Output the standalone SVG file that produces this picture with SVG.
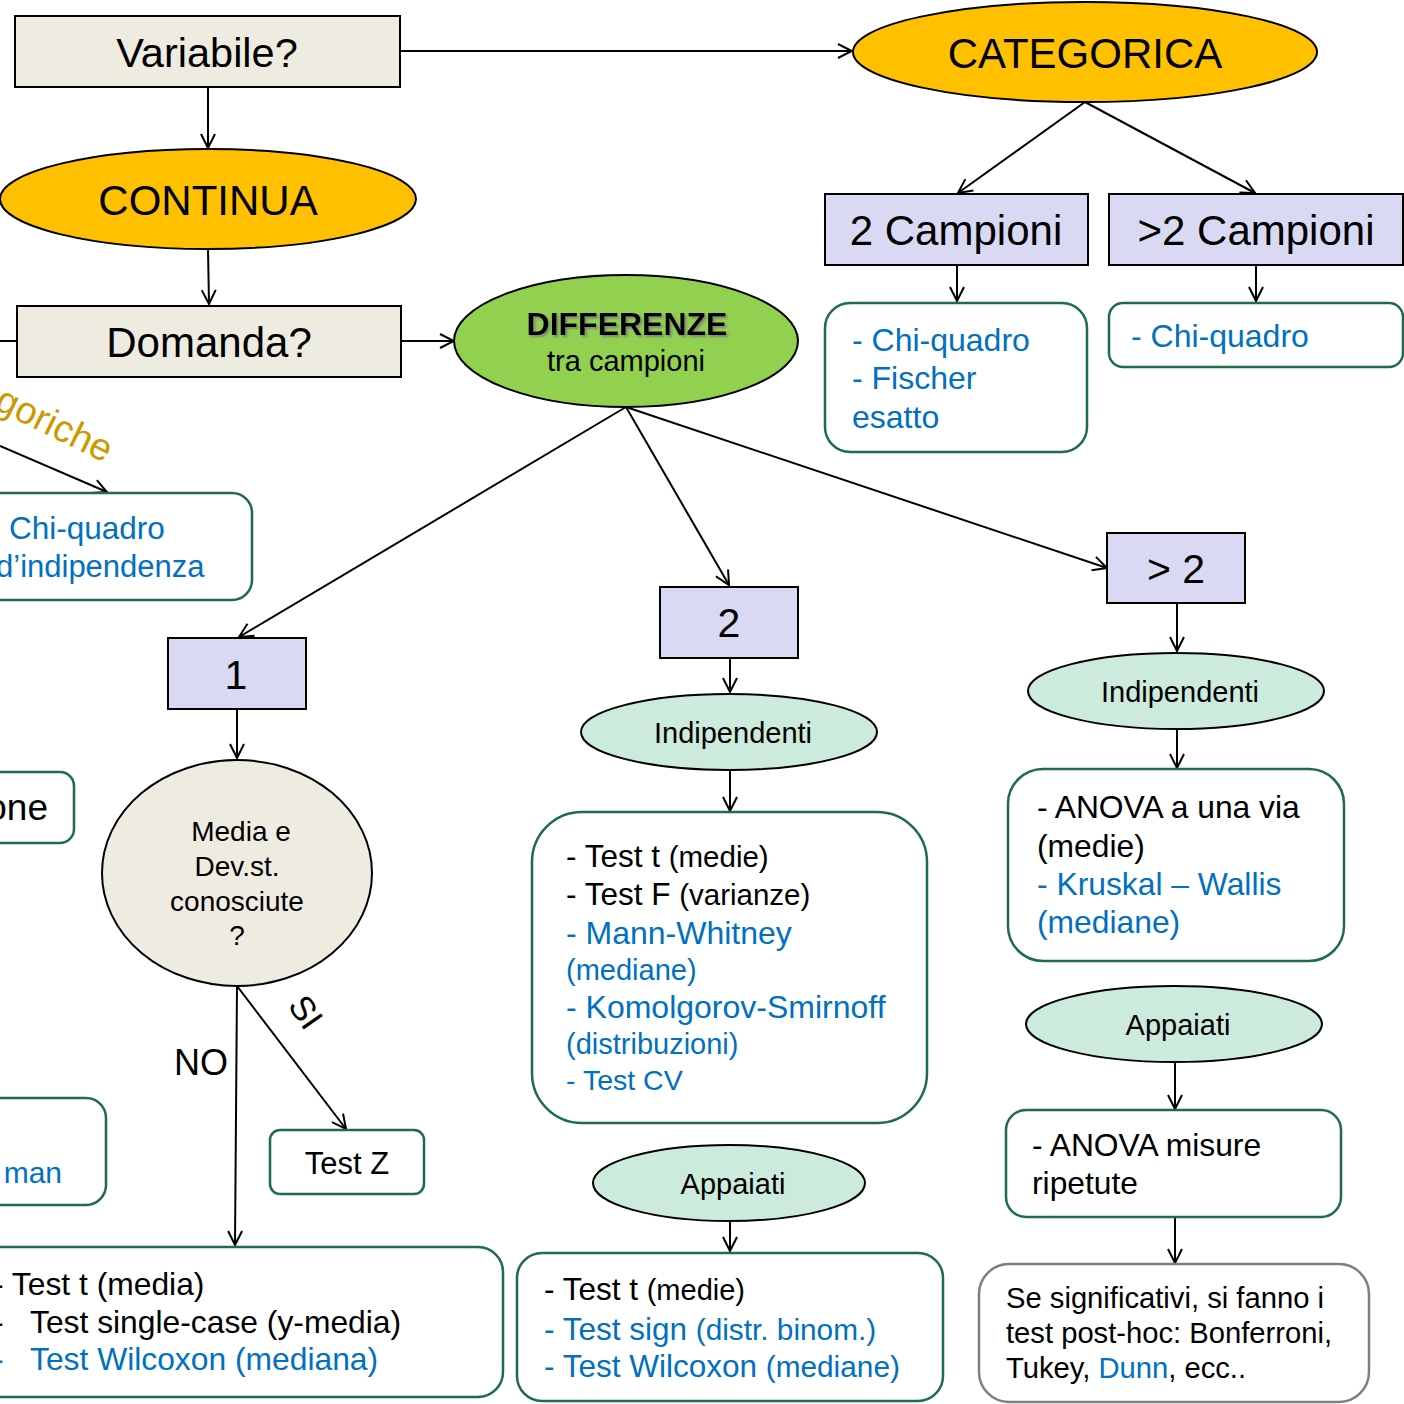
<svg xmlns="http://www.w3.org/2000/svg" width="1404" height="1404" viewBox="0 0 1404 1404">
<style>
text{font-family:"Liberation Sans",Arial,sans-serif;fill:#000}
.c{text-anchor:middle;dominant-baseline:central}
.blue{fill:#0070C0}
.q{fill:#EEECE1;stroke:#000;stroke-width:2}
.cat{fill:#FFC000;stroke:#000;stroke-width:2}
.lav{fill:#D9D9F3;stroke:#000;stroke-width:2}
.mint{fill:#CDEBDC;stroke:#000;stroke-width:2}
.box{fill:#fff;stroke:#1D6B50;stroke-width:2.5}
.gbox{fill:#fff;stroke:#7F7F7F;stroke-width:2.5}
.ln{fill:none;stroke:#000;stroke-width:2}
.ar{marker-end:url(#ah)}
</style>
<defs>
<marker id="ah" viewBox="0 0 16 16" refX="15" refY="8" markerWidth="16" markerHeight="16" markerUnits="userSpaceOnUse" orient="auto">
<path d="M1,1 L15,8 L1,15" fill="none" stroke="#000" stroke-width="2"/>
</marker>
<filter id="sh" x="-10%" y="-30%" width="120%" height="160%">
<feDropShadow dx="2" dy="2" stdDeviation="1.2" flood-color="#777" flood-opacity="0.8"/>
</filter>
</defs>
<rect width="1404" height="1404" fill="#fff"/>

<g id="connectors">
<line class="ln ar" x1="400" y1="51" x2="852" y2="51"/>
<line class="ln ar" x1="208" y1="87" x2="208" y2="148"/>
<line class="ln ar" x1="208" y1="249" x2="209" y2="304"/>
<line class="ln" x1="0" y1="341" x2="17" y2="341"/>
<line class="ln ar" x1="401" y1="341" x2="454" y2="341"/>
<line class="ln ar" x1="1085" y1="102" x2="958" y2="193"/>
<line class="ln ar" x1="1085" y1="102" x2="1255" y2="193"/>
<line class="ln ar" x1="957" y1="265" x2="957" y2="301"/>
<line class="ln ar" x1="1256" y1="265" x2="1256" y2="301"/>
<line class="ln ar" x1="0" y1="446" x2="107" y2="492"/>
<line class="ln ar" x1="626" y1="407" x2="239" y2="637"/>
<line class="ln ar" x1="626" y1="407" x2="729" y2="585"/>
<line class="ln ar" x1="626" y1="407" x2="1107" y2="568"/>
<line class="ln ar" x1="237" y1="709" x2="237" y2="758"/>
<line class="ln ar" x1="237" y1="986" x2="235" y2="1245"/>
<line class="ln ar" x1="237" y1="986" x2="346" y2="1129"/>
<line class="ln ar" x1="730" y1="658" x2="730" y2="692"/>
<line class="ln ar" x1="730" y1="770" x2="730" y2="811"/>
<line class="ln ar" x1="730" y1="1221" x2="730" y2="1251"/>
<line class="ln ar" x1="1177" y1="603" x2="1177" y2="651"/>
<line class="ln ar" x1="1177" y1="729" x2="1177" y2="768"/>
<line class="ln ar" x1="1175" y1="1062" x2="1175" y2="1109"/>
<line class="ln ar" x1="1175" y1="1217" x2="1175" y2="1263"/>
<text x="201" y="1062" class="c" font-size="36">NO</text>
<text x="306" y="1012" class="c" font-size="34" transform="rotate(55 306 1012)">SI</text>
<text x="105" y="463" font-size="38" text-anchor="end" style="fill:#CC9900" transform="rotate(26 105 463)">goriche</text>
</g>

<g id="variabile"><rect class="q" x="15" y="16" width="385" height="71"/><text x="207" y="52" class="c" font-size="41.5">Variabile?</text></g>
<g id="categorica"><ellipse class="cat" cx="1085" cy="52" rx="232" ry="50"/><text x="1085" y="53" class="c" font-size="42">CATEGORICA</text></g>
<g id="continua"><ellipse class="cat" cx="208" cy="199" rx="208" ry="50"/><text x="208" y="200" class="c" font-size="42">CONTINUA</text></g>
<g id="domanda"><rect class="q" x="17" y="306" width="384" height="71"/><text x="209" y="342" class="c" font-size="42">Domanda?</text></g>
<g id="differenze"><ellipse cx="626" cy="341" rx="172" ry="66" fill="#92D050" stroke="#000" stroke-width="2"/>
<text x="627" y="324" class="c" font-size="32" font-weight="bold" filter="url(#sh)">DIFFERENZE</text>
<text x="626" y="361" class="c" font-size="29">tra campioni</text></g>

<g id="due-campioni"><rect class="lav" x="825" y="194" width="263" height="71"/><text x="956" y="230" class="c" font-size="42">2 Campioni</text></g>
<g id="piu-campioni"><rect class="lav" x="1109" y="194" width="294" height="71"/><text x="1256" y="230" class="c" font-size="42">&gt;2 Campioni</text></g>
<g id="chi-2"><rect class="box" x="825" y="303" width="262" height="149" rx="25"/>
<text x="852" y="351" font-size="32" class="blue">- Chi-quadro</text>
<text x="852" y="389" font-size="32" class="blue">- Fischer</text>
<text x="852" y="428" font-size="32" class="blue">esatto</text></g>
<g id="chi-n"><rect class="box" x="1109" y="303" width="294" height="64" rx="14"/>
<text x="1131" y="347" font-size="32" class="blue">- Chi-quadro</text></g>

<g id="chi-indip"><rect class="box" x="-30" y="493" width="282" height="107" rx="20"/>
<text x="9" y="539" font-size="31.5" class="blue">Chi-quadro</text>
<text x="-4" y="577" font-size="31" class="blue">d’indipendenza</text></g>
<g id="partial-one"><rect class="box" x="-30" y="772" width="104" height="71" rx="14"/>
<text x="48" y="820" font-size="37" text-anchor="end">one</text></g>
<g id="partial-man"><rect class="box" x="-30" y="1098" width="136" height="107" rx="20"/>
<text x="62" y="1183" font-size="30" text-anchor="end" class="blue">man</text></g>

<g id="uno"><rect class="lav" x="168" y="638" width="138" height="71"/><text x="236" y="675" class="c" font-size="41">1</text></g>
<g id="media"><ellipse cx="237" cy="873" rx="135" ry="113" fill="#EEECE1" stroke="#000" stroke-width="2"/>
<text x="241" y="831" class="c" font-size="28">Media e</text>
<text x="237" y="866" class="c" font-size="28">Dev.st.</text>
<text x="237" y="901" class="c" font-size="28">conosciute</text>
<text x="237" y="935" class="c" font-size="28">?</text></g>
<g id="testz"><rect class="box" x="270" y="1130" width="154" height="64" rx="10"/><text x="347" y="1163" class="c" font-size="31">Test Z</text></g>
<g id="box-uno"><rect class="box" x="-30" y="1247" width="533" height="150" rx="25"/>
<text x="-7" y="1295" font-size="31.8">- Test t (media)</text>
<text font-size="31.8"><tspan x="-7" y="1333">-</tspan><tspan x="30" y="1333">Test single-case (y-media)</tspan></text>
<text font-size="31.8" class="blue"><tspan x="-7" y="1370">-</tspan><tspan x="30" y="1370">Test Wilcoxon (mediana)</tspan></text></g>

<g id="due"><rect class="lav" x="660" y="587" width="138" height="71"/><text x="729" y="623" class="c" font-size="41">2</text></g>
<g id="indip-2"><ellipse class="mint" cx="729" cy="732" rx="148" ry="38"/><text x="733" y="733" class="c" font-size="29">Indipendenti</text></g>
<g id="box-indip-2"><rect class="box" x="532" y="812" width="395" height="311" rx="50"/>
<text x="566" y="867" font-size="31.5">- Test t <tspan font-size="29.5">(medie)</tspan></text>
<text x="566" y="905" font-size="31.5">- Test F <tspan font-size="29.5">(varianze)</tspan></text>
<text x="566" y="944" font-size="32" class="blue">- Mann-Whitney</text>
<text x="566" y="980" font-size="29" class="blue">(mediane)</text>
<text x="566" y="1018" font-size="32" class="blue">- Komolgorov-Smirnoff</text>
<text x="566" y="1054" font-size="29" class="blue">(distribuzioni)</text>
<text x="566" y="1090" font-size="28.5" class="blue">- Test CV</text></g>
<g id="appa-2"><ellipse class="mint" cx="729" cy="1183" rx="136" ry="38"/><text x="733" y="1184" class="c" font-size="29">Appaiati</text></g>
<g id="box-appa-2"><rect class="box" x="517" y="1253" width="426" height="148" rx="25"/>
<text x="544" y="1300" font-size="31.5">- Test t <tspan font-size="29">(medie)</tspan></text>
<text x="544" y="1340" font-size="31.5" class="blue">- Test sign <tspan font-size="29.8">(distr. binom.)</tspan></text>
<text x="544" y="1377" font-size="31.5" class="blue">- Test Wilcoxon <tspan font-size="29.8">(mediane)</tspan></text></g>

<g id="piu-due"><rect class="lav" x="1107" y="533" width="138" height="70"/><text x="1176" y="569" class="c" font-size="41">&gt; 2</text></g>
<g id="indip-n"><ellipse class="mint" cx="1176" cy="691" rx="148" ry="38"/><text x="1180" y="692" class="c" font-size="29">Indipendenti</text></g>
<g id="box-indip-n"><rect class="box" x="1008" y="769" width="336" height="192" rx="35"/>
<text x="1037" y="818" font-size="31.8">- ANOVA a una via</text>
<text x="1037" y="857" font-size="31.8">(medie)</text>
<text x="1037" y="895" font-size="31.8" class="blue">- Kruskal – Wallis</text>
<text x="1037" y="933" font-size="31.8" class="blue">(mediane)</text></g>
<g id="appa-n"><ellipse class="mint" cx="1174" cy="1024" rx="148" ry="38"/><text x="1178" y="1025" class="c" font-size="29">Appaiati</text></g>
<g id="box-appa-n"><rect class="box" x="1006" y="1110" width="335" height="107" rx="20"/>
<text x="1032" y="1156" font-size="31.8">- ANOVA misure</text>
<text x="1032" y="1194" font-size="31.8">ripetute</text></g>
<g id="posthoc"><rect class="gbox" x="979" y="1264" width="390" height="138" rx="30"/>
<text x="1006" y="1308" font-size="29.2">Se significativi, si fanno i</text>
<text x="1006" y="1343" font-size="29.2">test post-hoc: Bonferroni,</text>
<text x="1006" y="1378" font-size="29.2">Tukey, <tspan class="blue">Dunn</tspan>, ecc..</text></g>
</svg>
